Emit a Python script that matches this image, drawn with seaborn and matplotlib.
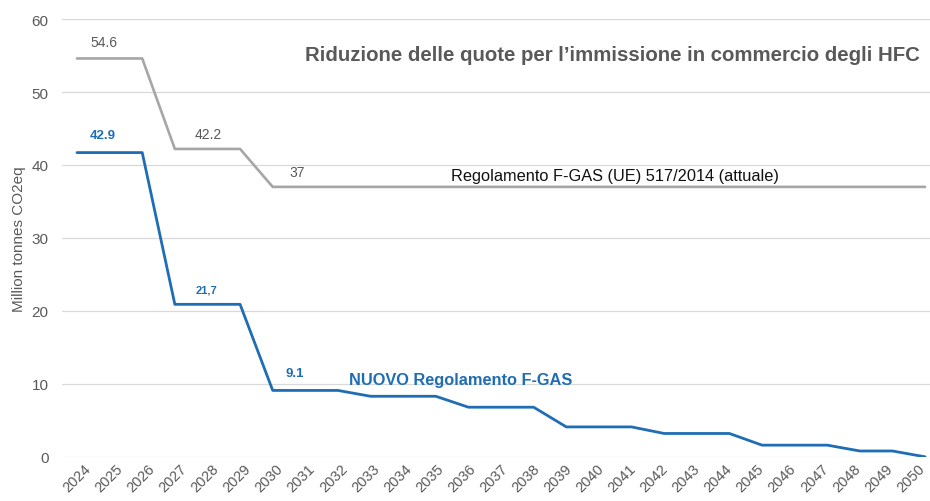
import pandas as pd
import seaborn as sns
import matplotlib.pyplot as plt

# ==================== dati ====================
anni = list(range(2024, 2051))
quote_attuali = [54.6, 54.6, 54.6, 42.2, 42.2, 42.2] + [37.0] * 21
quote_nuove = [41.7, 41.7, 41.7, 20.9, 20.9, 20.9, 9.1, 9.1, 9.1,
               8.3, 8.3, 8.3, 6.8, 6.8, 6.8, 4.1, 4.1, 4.1,
               3.2, 3.2, 3.2, 1.6, 1.6, 1.6, 0.8, 0.8, 0.0]
etichette_grigie = [(2024, 54.6, "54.6"), (2027, 42.2, "42.2"), (2030, 37.0, "37")]
etichette_blu = [(2024, 41.7, "42.9"), (2027, 20.9, "21,7"), (2030, 9.1, "9.1")]

titolo = "Riduzione delle quote per l\u2019immissione in commercio degli HFC"
nome_attuale = "Regolamento F-GAS (UE) 517/2014 (attuale)"
nome_nuovo = "NUOVO Regolamento F-GAS"

BLU = "#1f6db5"
GRIGIO = "#a6a6a6"
TESTO = "#595959"

df = pd.DataFrame({"anno": anni, "attuale": quote_attuali, "nuovo": quote_nuove})

# ==================== grafico ====================
sns.set_style("white")
plt.rcParams['font.family'] = ['Liberation Sans', 'DejaVu Sans']

fig = plt.figure(figsize=(9.3, 5.02), dpi=100)
ax = fig.add_axes([0.067, 0.088, 0.933, 0.872])

sns.lineplot(data=df, x="anno", y="attuale", color=GRIGIO, linewidth=1.9, ax=ax)
sns.lineplot(data=df, x="anno", y="nuovo", color=BLU, linewidth=2.0, ax=ax)

ax.set_xlim(2023.55, 2050.15)
ax.set_ylim(0, 60)
ax.set_yticks(range(0, 61, 10))
ax.set_xticks(anni)
ax.set_xticklabels([])
# etichette degli anni scritte a mano: nell'originale si stringono verso destra
for i, a in enumerate(anni):
    ax.annotate(str(a), xy=(a, 0), xycoords=ax.get_xaxis_transform(),
                xytext=(-0.4 * i, -3), textcoords="offset points",
                rotation=45, ha="center", va="top", fontsize=10.5, color=TESTO)
ax.tick_params(axis="y", labelsize=11, labelcolor=TESTO, length=0, pad=10)
ax.tick_params(axis="x", length=0)
ax.grid(axis="y", color="#d9d9d9", linewidth=0.9)
ax.set_axisbelow(True)
for s in ax.spines.values():
    s.set_visible(False)

ax.set_xlabel("")
ax.set_ylabel("Million tonnes CO2eq", fontsize=11, color=TESTO, labelpad=4)

offsets_grigi = [(10, 7), (14, 6), (12, 6)]
for (x, y, t), (dx, dy) in zip(etichette_grigie, offsets_grigi):
    ax.annotate(t, (x, y), xytext=(dx, dy), textcoords="offset points",
                fontsize=10, color=TESTO, va="bottom")
offsets_blu = [(9, 8), (15, 7), (9, 8)]
for (x, y, t), (dx, dy) in zip(etichette_blu, offsets_blu):
    size = 8 if t == "21,7" else 9.5
    ax.annotate(t, (x, y), xytext=(dx, dy), textcoords="offset points",
                fontsize=size, color=BLU, fontweight="bold", va="bottom")

ax.text(2032.35, 10.6, nome_nuovo, fontsize=11.8, color=BLU, fontweight="bold", va="center")
ax.text(2040.5, 38.6, nome_attuale, fontsize=11.8, color="#111111", ha="center", va="center")
ax.text(2049.85, 55.2, titolo, fontsize=14.7, color=TESTO, fontweight="bold",
        ha="right", va="center")

plt.savefig("out.png", dpi=100)
